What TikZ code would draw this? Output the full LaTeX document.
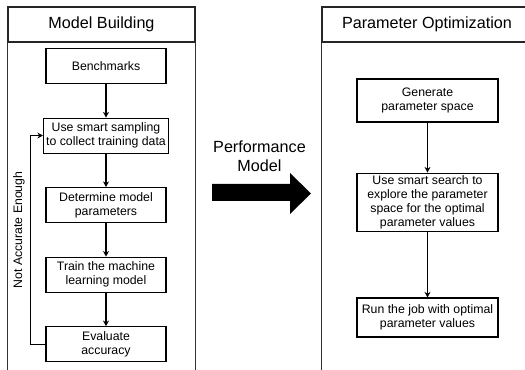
\documentclass[tikz,border=0pt]{standalone}
\usepackage{fontspec}
\setmainfont{Liberation Sans}
\usetikzlibrary{arrows.meta, positioning}

\begin{document}
\begin{tikzpicture}[
    node distance=0.67cm,
    every node/.style={font=\fontsize{7}{8}\selectfont},
    stepL/.style={rectangle, draw=black, line width=0.6pt, align=center, minimum width=2.4cm, minimum height=0.7cm, inner sep=1.5pt},
    stepR/.style={rectangle, draw=black, line width=0.6pt, align=center, minimum width=2.82cm, minimum height=0.78cm, inner sep=1.5pt},
    panelhead/.style={rectangle, draw=black!85, line width=0.6pt, minimum height=0.7cm, font=\fontsize{9.2}{11}\selectfont},
    panel/.style={draw=black!80, line width=0.6pt},
    flow/.style={-{Stealth[length=3.2pt, width=3.4pt]}, line width=0.6pt}
]
\useasboundingbox (0,0) rectangle (10.5,-7.4);

% ============== PANELES ==============
\node[panelhead, minimum width=3.74cm] (build) at (2.03,-0.49) {Model Building};
\draw[panel] (build.south west) -- ++(0,-6.8);
\draw[panel] (build.south east) -- ++(0,-6.8);
\node[panelhead, minimum width=4.2cm] (optim) at (8.54,-0.49) {Parameter Optimization};
\draw[panel] (optim.south west) -- ++(0,-6.8);

% ============== MODEL BUILDING ==============
\node[stepL] (bench) at (2.12,-1.32) {Benchmarks};
\node[stepL, below=of bench]  (sample) {Use smart sampling\\to collect training data};
\node[stepL, below=of sample] (determ) {Determine model\\parameters};
\node[stepL, below=of determ] (train)  {Train the machine\\learning model};
\node[stepL, below=of train]  (eval)   {Evaluate\\accuracy};
\node[rotate=90] (nae) at (0.38,-4.6) {Not Accurate Enough};

\draw[flow] (bench)  -- (sample);
\draw[flow] (sample) -- (determ);
\draw[flow] (determ) -- (train);
\draw[flow] (train)  -- (eval);
\draw[flow] (eval.west) -- ++(-0.3,0) |- (sample.west);

% ============== PERFORMANCE MODEL ==============
\node[align=center, font=\fontsize{9.2}{10.8}\selectfont] (perf) at (5.19,-3.13) {Performance\\Model};
\fill (4.24,-3.68) -- (5.8,-3.68) -- (5.8,-3.46) -- (6.22,-3.87) -- (5.8,-4.28) -- (5.8,-4.02) -- (4.24,-4.02) -- cycle;

% ============== PARAMETER OPTIMIZATION ==============
\node[stepR, minimum height=0.86cm] (gen) at (8.55,-2.01) {Generate\\parameter space};
\node[stepR, below=1.0cm of gen]    (search) {Use smart search to\\explore the parameter\\space for the optimal\\parameter values};
\node[stepR, below=1.3cm of search] (run)    {Run the job with optimal\\parameter values};

\draw[flow] (gen)    -- (search);
\draw[flow] (search) -- (run);
\end{tikzpicture}
\end{document}
